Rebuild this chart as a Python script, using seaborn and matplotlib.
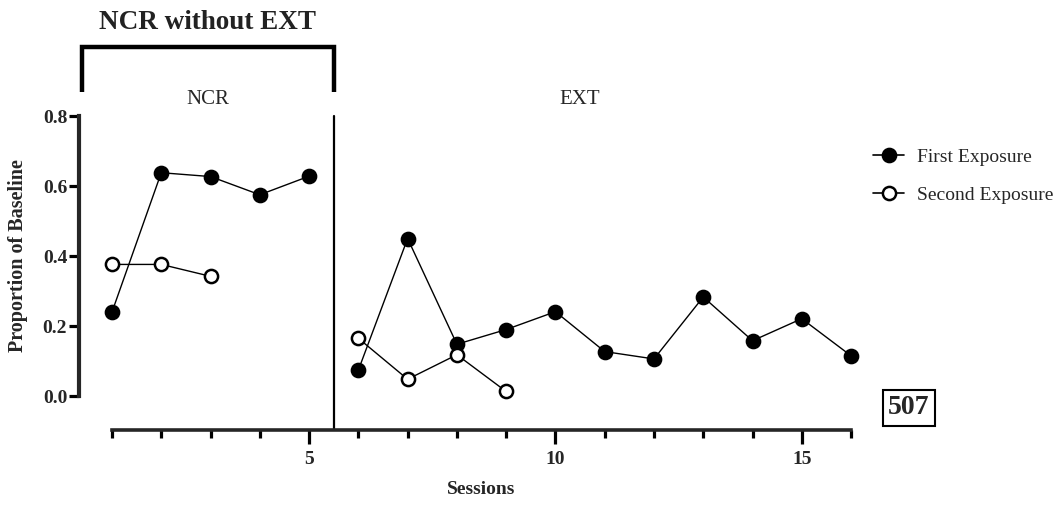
import numpy as np
import pandas as pd
import matplotlib
matplotlib.use("Agg")
import matplotlib.pyplot as plt
from matplotlib.lines import Line2D
import seaborn as sns

# ---- data ----
first_sessions = [1, 2, 3, 4, 5, 6, 7, 8, 9, 10, 11, 12, 13, 14, 15, 16]
first_values = [0.24, 0.638, 0.627, 0.575, 0.628,
                0.074, 0.45, 0.148, 0.19, 0.241, 0.127, 0.106, 0.283, 0.158, 0.221, 0.115]
second_sessions = [1, 2, 3, 6, 7, 8, 9]
second_values = [0.376, 0.376, 0.342, 0.165, 0.048, 0.118, 0.013]
series_names = ["First Exposure", "Second Exposure"]
phase_names = ["NCR", "EXT"]
phase_change = 5.5
bracket_title = "NCR without EXT"
panel_id = "507"
x_ticks_major = [5, 10, 15]
y_ticks = [0.0, 0.2, 0.4, 0.6, 0.8]

rows = []
for s, v in zip(first_sessions, first_values):
    rows.append(dict(Session=s, Proportion=v, Exposure=series_names[0],
                     Phase=phase_names[0] if s < phase_change else phase_names[1]))
for s, v in zip(second_sessions, second_values):
    rows.append(dict(Session=s, Proportion=v, Exposure=series_names[1],
                     Phase=phase_names[0] if s < phase_change else phase_names[1]))
df = pd.DataFrame(rows)

sns.set_style("ticks")
plt.rcParams["font.family"] = ["Liberation Serif", "DejaVu Serif"]

W, H = 1061, 508
fig = plt.figure(figsize=(W / 100, H / 100), dpi=100)

px_per_session = 49.27
x_left = 1 - 33 / px_per_session
x_right = 16.2
ax_left_px = 79
ax_w_px = (x_right - x_left) * px_per_session
y_bot, y_top = -0.097, 0.82
ax_h_px = 430 - 109
ax = fig.add_axes([ax_left_px / W, (H - 430) / H, ax_w_px / W, ax_h_px / H])

fills = {series_names[0]: "black", series_names[1]: "white"}
for name in series_names:
    for ph in phase_names:
        sub = df[(df.Exposure == name) & (df.Phase == ph)]
        sns.lineplot(data=sub, x="Session", y="Proportion", ax=ax, color="black",
                     linewidth=1.0, marker="o", markersize=9.5,
                     markerfacecolor=fills[name], markeredgecolor="black",
                     markeredgewidth=1.8, legend=False, zorder=3)

ax.set_xlim(x_left, x_right)
ax.set_ylim(y_bot, y_top)

for sp in ["top", "right"]:
    ax.spines[sp].set_visible(False)
ax.spines["left"].set_linewidth(3)
ax.spines["bottom"].set_linewidth(2.6)
ax.spines["left"].set_bounds(0, 0.8)
ax.spines["bottom"].set_bounds(1, 16)

ax.set_yticks(y_ticks)
ax.set_yticklabels([f"{t:.1f}" for t in y_ticks], fontweight="bold", fontsize=14)
ax.set_xticks(x_ticks_major)
ax.set_xticklabels([str(t) for t in x_ticks_major], fontweight="bold", fontsize=14)
ax.set_xticks([s for s in first_sessions if s not in x_ticks_major], minor=True)
ax.tick_params(axis="y", length=7.5, width=2.3, pad=1, color="black")
ax.tick_params(axis="x", which="major", length=10, width=2.3, pad=5, color="black")
ax.tick_params(axis="x", which="minor", length=6, width=2.3, color="black")

ax.set_xlabel("Sessions", fontweight="bold", fontsize=14)
ax.set_ylabel("Proportion of Baseline", fontweight="bold", fontsize=14.5)
ax.xaxis.set_label_coords((8.5 - x_left) / (x_right - x_left), -(481 - 430) / ax_h_px)
ax.xaxis.label.set_va("top")
ax.yaxis.set_label_coords((28 - ax_left_px) / ax_w_px, (0.4 - y_bot) / (y_top - y_bot))
ax.grid(False)

# phase change line
ax.axvline(phase_change, ymin=0, ymax=(0.8 - y_bot) / (y_top - y_bot),
           color="black", linewidth=1.6, zorder=2)

# bracket
bx0 = 1 - 30 / px_per_session
by0, by1 = 0.869, 0.997
ax.plot([bx0, bx0, phase_change, phase_change], [by0, by1, by1, by0],
        color="black", linewidth=3.2, clip_on=False, solid_joinstyle="miter",
        solid_capstyle="butt")
ax.text((bx0 + phase_change) / 2, 1.066, bracket_title, ha="center", va="center",
        fontsize=19.5, fontweight="bold", color="#222222")
ax.text((bx0 + phase_change) / 2, 0.846, phase_names[0], ha="center", va="center",
        fontsize=15)
ax.text(10.5, 0.846, phase_names[1], ha="center", va="center", fontsize=15)

# legend
handles = [Line2D([], [], color="black", linewidth=1.2, marker="o", markersize=9.5,
                  markerfacecolor=fills[n], markeredgecolor="black",
                  markeredgewidth=1.8) for n in series_names]
ax.legend(handles, series_names, loc="upper left", frameon=False,
          bbox_to_anchor=(873 / W, 1 - 148 / H), bbox_transform=fig.transFigure,
          fontsize=14, handlelength=1.6, handletextpad=0.65, labelspacing=1.05,
          borderpad=0, borderaxespad=0)

fig.text(909 / W, 1 - 408 / H, panel_id, ha="center", va="center", fontsize=20,
         fontweight="bold",
         bbox=dict(boxstyle="square,pad=0.2", facecolor="white", edgecolor="black",
                   linewidth=1.5))

fig.savefig("out.png", dpi=100)
